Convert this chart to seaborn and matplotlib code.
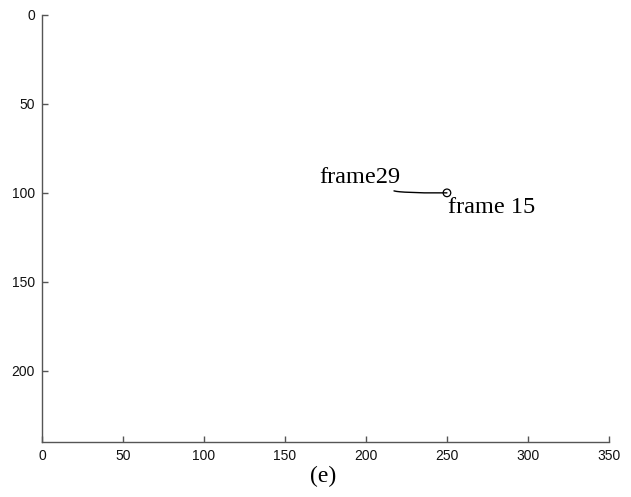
import matplotlib
matplotlib.use("Agg")
import matplotlib.pyplot as plt
import seaborn as sns
import pandas as pd

# trajectory, frame 15 -> frame 29
frames = list(range(15, 30))
traj_x = [250, 249, 248, 246, 244, 242, 239, 236, 233, 230, 227, 224, 221, 219, 217.3]
traj_y = [100, 100, 100, 100, 100, 100, 100, 100, 99.9, 99.8, 99.7, 99.6, 99.4, 99.2, 98.9]
x_ticks = [0, 50, 100, 150, 200, 250, 300, 350]
y_ticks = [0, 50, 100, 150, 200]
labels = ["frame29", "frame 15"]
label_pos = [(171.0, 91.5), (250.6, 108.5)]
caption = "(e)"

df = pd.DataFrame({"frame": frames, "x": traj_x, "y": traj_y})

sns.set_style("white")
plt.rcParams["font.family"] = ["Liberation Sans", "DejaVu Sans"]
plt.rcParams["xtick.direction"] = "in"
plt.rcParams["ytick.direction"] = "in"

fig = plt.figure(figsize=(6.31, 4.97), dpi=100)
ax = fig.add_axes([0.0666, 0.1107, 0.965 - 0.0666, 0.970 - 0.1107])

sns.lineplot(data=df, x="x", y="y", sort=False, estimator=None, color="black",
             linewidth=1.0, ax=ax)
sns.scatterplot(x=[traj_x[0]], y=[traj_y[0]], ax=ax, marker="o", s=30,
                facecolor="none", edgecolor="black", linewidth=0.9, zorder=3)

ax.set_xlim(0, 350)
ax.set_ylim(240, 0)
ax.set_xticks(x_ticks)
ax.set_yticks(y_ticks)
ax.set_xlabel("")
ax.set_ylabel("")
for s in ["top", "right"]:
    ax.spines[s].set_visible(False)
for s in ["left", "bottom"]:
    ax.spines[s].set_color("#555555")
    ax.spines[s].set_linewidth(1.0)
ax.tick_params(direction="in", length=4, width=1, color="#555555",
               labelsize=10, labelcolor="#111111", pad=5,
               left=True, bottom=True)

ax.text(label_pos[0][0], label_pos[0][1], labels[0], family="Liberation Serif",
        fontsize=17.5, ha="left", va="center", color="black")
ax.text(label_pos[1][0], label_pos[1][1], labels[1], family="Liberation Serif",
        fontsize=17.5, ha="left", va="center", color="black")

fig.text(323 / 631, 1 - 476 / 497, caption, family="Liberation Serif",
         fontsize=17, ha="center", va="center", color="black")

fig.savefig("out.png", dpi=100)
